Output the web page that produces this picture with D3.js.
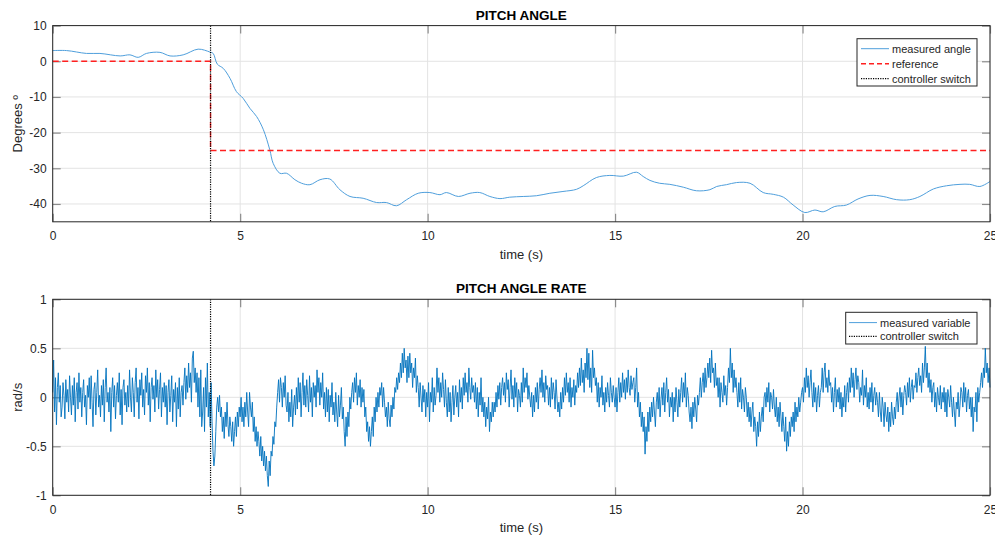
<!DOCTYPE html>
<html>
<head>
<meta charset="utf-8">
<script src="https://cdn.jsdelivr.net/npm/d3@7"></script>
<style>
  html, body { margin: 0; padding: 0; background: #fff; }
  svg { display: block; font-family: "Liberation Sans", Arial, Helvetica, sans-serif; }
</style>
</head>
<body>
<svg id="chart" width="995" height="538"></svg>
<script>
// ---- data ----
const switchTime = 4.21;

// pitch angle (deg) vs time (s)
const angleTime = [0,0.37,0.9,1.26,1.8,2.06,2.28,2.5,2.86,3.13,3.48,3.88,4.19,4.28,4.39,4.55,4.73,4.9,5.08,5.26,5.44,5.62,5.79,5.88,6.06,6.24,6.46,6.64,6.86,7.13,7.39,7.66,7.93,8.28,8.64,8.9,9.17,9.44,9.75,10.06,10.33,10.5,10.82,11.13,11.39,11.66,11.93,12.19,12.55,12.9,13.26,13.61,13.97,14.15,14.5,14.86,15.22,15.57,15.75,15.93,16.19,16.46,16.82,17.17,17.53,17.71,17.97,18.24,18.6,18.95,19.22,19.49,19.75,20.06,20.33,20.55,20.86,21.17,21.48,21.8,22.15,22.51,22.86,23.13,23.49,23.84,24.2,24.46,24.73,25];
const angleValue = [3.0,3.0,2.2,2.2,1.5,1.8,1.1,2.2,2.5,1.5,1.8,3.4,2.6,2.2,-0.8,-2.0,-4.8,-8.5,-10.4,-13.2,-15.5,-19.2,-24.8,-28.6,-31.4,-31.4,-33.2,-34.2,-34.6,-33.2,-33.0,-36.0,-37.9,-38.4,-39.6,-39.6,-40.5,-38.8,-37.0,-36.8,-37.4,-36.8,-37.9,-37.0,-36.8,-37.9,-38.5,-38.1,-37.9,-37.7,-37.0,-36.5,-35.9,-34.9,-32.6,-32.0,-32.2,-31.1,-32.3,-33.4,-34.2,-34.5,-35.3,-36.3,-36.0,-35.1,-34.6,-34.0,-34.2,-36.8,-37.3,-38.1,-40.3,-42.4,-41.7,-42.2,-40.7,-40.3,-38.6,-37.6,-37.9,-38.8,-38.8,-37.9,-35.8,-34.9,-34.5,-34.5,-35.1,-33.7];

// reference pitch (deg)
const refTime = [0, 4.21, 4.21, 25];
const refValue = [0, 0, -25, -25];

// pitch angle rate (rad/s), evenly sampled over 0..25 s (10 samples per quarter second)
const rateStart = 0, rateEnd = 25;
const rateValue = [
  0.05,0.38,-0.15,0.2,-0.28,0.1,0.25,-0.05,0.12,-0.2,
  -0.1,0.15,0.02,-0.22,0.18,-0.05,0.08,-0.15,0.22,0.0,
  -0.18,0.12,-0.08,0.2,-0.25,0.05,0.15,-0.12,0.25,-0.05,
  0.1,-0.2,0.05,0.18,-0.1,0.02,-0.28,0.12,0.0,0.2,
  -0.12,0.22,-0.05,-0.3,0.08,0.15,-0.18,0.05,0.28,-0.1,
  0.02,-0.2,0.12,-0.08,0.18,-0.25,0.1,0.3,-0.05,0.05,
  -0.15,0.1,-0.35,0.05,0.2,-0.1,0.12,-0.22,0.02,0.15,
  -0.05,0.25,-0.18,0.08,-0.28,0.1,0.18,-0.08,0.05,-0.15,
  0.12,-0.1,0.28,0.0,-0.15,0.2,0.05,-0.2,0.15,0.3,
  -0.05,0.1,-0.22,0.18,0.02,0.25,-0.1,0.08,-0.18,0.22,
  0.05,0.3,-0.08,0.15,-0.25,0.1,0.2,-0.02,0.12,-0.15,
  0.28,0.0,0.18,-0.12,0.08,0.25,-0.2,0.1,-0.05,0.15,
  -0.1,0.12,-0.28,0.05,0.18,-0.15,0.02,0.22,-0.25,0.08,
  -0.05,0.15,-0.3,0.1,-0.12,0.2,-0.2,0.05,0.12,-0.08,
  0.15,0.3,-0.02,0.22,0.05,0.35,0.1,0.25,-0.05,0.4,
  0.47,0.15,0.3,0.05,0.25,-0.1,0.2,-0.2,0.28,-0.3,
  -0.15,0.1,-0.35,0.2,-0.1,0.35,-0.2,0.05,-0.3,0.15,
  -0.25,-0.55,-0.7,-0.6,-0.35,-0.1,0.0,-0.15,0.02,-0.2,
  -0.1,-0.35,-0.2,-0.42,-0.15,-0.3,-0.05,-0.28,-0.4,-0.2,
  -0.3,-0.45,-0.25,-0.5,-0.35,-0.2,-0.4,-0.15,-0.3,-0.1,
  -0.2,0.0,-0.25,-0.1,-0.3,-0.05,-0.2,0.05,-0.15,-0.3,
  0.05,-0.1,-0.2,-0.05,-0.35,-0.2,-0.45,-0.3,-0.5,-0.35,
  -0.45,-0.6,-0.4,-0.65,-0.5,-0.7,-0.55,-0.75,-0.6,-0.8,
  -0.91,-0.65,-0.8,-0.55,-0.6,-0.4,-0.48,-0.25,-0.3,-0.1,
  0.05,0.18,-0.05,0.2,0.1,-0.1,0.15,0.0,0.22,-0.08,
  -0.15,0.05,-0.25,-0.05,-0.2,0.08,-0.3,-0.1,0.02,-0.18,
  0.1,-0.12,0.2,-0.05,0.15,-0.2,0.05,0.25,-0.08,0.12,
  -0.1,0.18,0.02,-0.15,0.22,-0.05,0.1,-0.2,0.15,0.0,
  0.12,-0.1,0.28,0.05,0.2,-0.08,0.15,0.0,0.25,-0.12,
  0.05,-0.2,0.1,-0.15,0.08,-0.25,0.02,-0.1,0.15,-0.18,
  -0.05,-0.25,0.05,-0.15,-0.3,0.02,-0.2,-0.08,0.1,-0.22,
  -0.1,-0.35,-0.5,-0.2,-0.4,-0.15,-0.3,0.0,-0.12,0.05,
  0.15,-0.05,0.2,0.05,0.25,-0.08,0.12,0.0,0.18,-0.1,
  0.1,-0.05,0.08,-0.2,-0.1,-0.35,-0.25,-0.45,-0.3,-0.5,
  -0.35,-0.2,-0.4,-0.1,-0.25,0.0,-0.15,0.05,-0.1,0.1,
  0.02,0.15,-0.1,0.1,-0.05,-0.2,-0.1,-0.3,-0.05,-0.22,
  -0.3,-0.08,-0.2,0.0,-0.12,0.1,0.05,0.2,0.08,0.25,
  0.15,0.35,0.2,0.45,0.25,0.5,0.3,0.38,0.15,0.42,
  0.2,0.45,0.25,0.35,0.1,0.3,0.2,0.4,0.05,0.22,
  0.1,-0.1,0.15,0.0,-0.15,0.12,-0.05,0.08,-0.2,0.05,
  -0.1,0.15,-0.25,0.05,-0.05,0.2,-0.15,0.1,-0.08,0.02,
  0.3,0.05,0.2,-0.05,0.15,0.0,0.25,0.08,-0.1,0.18,
  -0.05,-0.2,0.1,-0.15,0.05,-0.25,-0.05,0.12,-0.18,0.0,
  0.12,-0.1,0.05,-0.2,0.18,-0.05,0.1,-0.12,0.2,0.02,
  0.25,0.05,0.15,-0.05,0.3,0.1,-0.02,0.2,0.05,0.12,
  -0.05,0.15,-0.12,0.1,-0.2,0.05,-0.08,0.2,-0.15,0.0,
  -0.2,-0.05,-0.3,-0.1,-0.22,0.0,-0.35,-0.15,-0.25,-0.05,
  -0.2,-0.05,-0.15,0.05,-0.1,0.12,-0.02,0.15,-0.08,0.1,
  0.2,0.02,0.15,-0.05,0.25,0.08,0.18,-0.1,0.1,0.28,
  -0.02,0.12,-0.1,0.2,0.0,0.15,-0.15,0.08,0.02,-0.1,
  0.15,-0.05,0.3,0.05,0.2,0.1,0.25,-0.02,0.12,0.0,
  -0.1,0.05,-0.2,0.02,-0.15,0.1,-0.05,0.15,-0.12,0.08,
  0.2,0.05,0.28,0.0,0.15,-0.05,0.22,0.08,0.12,-0.08,
  0.1,-0.1,0.2,-0.02,0.15,0.05,-0.12,0.18,0.0,-0.15,
  -0.05,-0.2,0.05,-0.12,0.1,-0.05,0.2,0.02,0.25,0.05,
  0.15,-0.05,0.2,-0.1,0.1,0.0,0.18,-0.08,0.12,0.05,
  0.25,0.1,0.3,0.12,0.4,0.15,0.28,0.05,0.35,0.2,
  0.5,0.18,0.45,0.1,0.3,0.05,0.48,0.2,0.3,0.12,
  0.2,-0.05,0.15,-0.1,0.1,0.0,0.22,-0.08,0.05,-0.15,
  0.1,-0.05,0.15,0.02,-0.1,0.2,0.05,-0.05,0.12,0.0,
  -0.1,0.1,-0.15,0.05,0.2,-0.05,0.15,0.0,0.25,0.05,
  0.18,-0.02,0.2,0.05,0.28,0.1,0.02,0.22,0.08,0.15,
  0.2,-0.05,0.1,0.3,-0.1,0.05,-0.2,-0.05,-0.3,-0.15,
  -0.35,-0.2,-0.58,-0.3,-0.45,-0.15,-0.35,-0.1,-0.25,-0.05,
  -0.2,0.0,-0.15,-0.3,-0.05,0.05,-0.12,0.1,-0.2,-0.02,
  0.1,-0.08,0.15,-0.15,0.05,0.2,-0.05,0.08,-0.2,0.0,
  -0.1,0.05,-0.25,0.0,-0.15,0.1,-0.05,-0.2,0.08,-0.1,
  0.05,0.2,-0.05,0.15,0.0,0.25,-0.1,0.1,0.02,-0.15,
  -0.25,-0.1,-0.32,-0.05,-0.2,0.0,-0.12,-0.25,0.02,-0.08,
  0.05,0.2,0.0,0.15,0.25,0.05,0.3,0.1,0.2,0.35,
  0.2,0.4,0.15,0.48,0.25,0.3,0.1,0.35,0.12,0.2,
  0.0,0.2,-0.1,0.15,0.05,-0.05,0.22,0.02,0.12,-0.08,
  0.1,0.3,0.15,0.5,0.2,0.35,0.05,0.28,0.1,0.2,
  0.05,-0.1,0.15,-0.05,0.2,-0.12,0.08,0.0,-0.15,0.1,
  0.0,-0.2,-0.05,-0.25,-0.1,-0.3,-0.15,-0.05,-0.35,-0.2,
  -0.3,-0.5,-0.25,-0.4,-0.15,-0.35,-0.2,-0.1,-0.25,0.0,
  0.05,-0.1,0.1,-0.05,0.15,-0.15,0.05,0.0,-0.12,0.08,
  -0.1,-0.2,0.0,-0.25,-0.1,-0.3,-0.05,-0.2,-0.35,-0.15,
  -0.3,-0.45,-0.2,-0.55,-0.35,-0.5,-0.25,-0.4,-0.2,-0.3,
  -0.15,-0.35,-0.05,-0.25,-0.1,-0.2,0.0,-0.15,-0.05,0.05,
  0.1,-0.05,0.2,0.05,0.3,0.1,0.22,0.0,0.15,0.28,
  0.05,-0.1,0.15,-0.05,0.1,-0.15,0.02,0.12,-0.1,0.05,
  0.1,0.3,0.05,0.25,0.35,0.1,0.2,0.05,0.28,0.12,
  0.15,-0.05,0.1,-0.15,0.05,0.2,-0.1,0.08,-0.05,0.1,
  -0.12,0.05,-0.2,0.0,-0.1,0.12,-0.15,0.05,0.15,-0.05,
  0.2,0.05,0.3,0.1,0.25,0.0,0.18,0.3,0.08,0.22,
  0.15,-0.05,0.1,0.02,0.28,-0.08,0.12,0.0,0.2,-0.1,
  0.05,-0.12,0.1,-0.05,0.15,-0.15,0.02,0.1,-0.08,0.05,
  -0.05,-0.2,0.05,-0.15,-0.25,0.0,-0.1,-0.3,-0.05,-0.18,
  -0.25,-0.1,-0.35,-0.15,-0.3,-0.05,-0.2,-0.28,-0.1,-0.22,
  -0.05,0.05,-0.15,0.0,0.1,-0.1,0.05,-0.18,0.02,0.12,
  0.05,-0.08,0.15,0.0,0.2,-0.05,0.1,0.18,-0.02,0.12,
  0.1,0.25,0.05,0.2,0.3,0.12,0.22,0.05,0.35,0.15,
  0.3,0.52,0.2,0.35,0.1,0.25,0.05,0.18,-0.05,0.1,
  0.15,-0.1,0.05,-0.15,0.1,0.0,-0.08,0.12,-0.12,0.05,
  -0.05,0.1,-0.15,0.05,-0.2,0.08,0.0,-0.1,0.12,-0.05,
  -0.2,0.0,-0.15,-0.3,-0.05,-0.12,0.05,-0.2,-0.08,0.1,
  0.05,-0.1,0.15,-0.05,0.1,-0.15,0.02,0.08,-0.12,0.0,
  -0.2,0.0,-0.35,-0.1,-0.15,0.05,-0.25,0.1,-0.05,0.05,
  0.15,0.25,0.1,0.3,0.2,0.5,0.25,0.35,0.15,0.3,
  0.1
];

const xTicks = [0, 5, 10, 15, 20, 25];
const angleTicks = [10, 0, -10, -20, -30, -40];
const rateTicks = [1, 0.5, 0, -0.5, -1];

// ---- layout ----
const svg = d3.select("#chart");
const left = 52.7, right = 990;
const panels = [
  { top: 25.6, bottom: 221.8, domain: [-45, 10], ticks: angleTicks, title: "PITCH ANGLE", ylabel: "Degrees º" },
  { top: 299.3, bottom: 495.3, domain: [-1, 1], ticks: rateTicks, title: "PITCH ANGLE RATE", ylabel: "rad/s" }
];
const axisColor = "#262626";
const gridColor = "#e3e3e3";
const fmt = d => String(d);

const x = d3.scaleLinear().domain([0, 25]).range([left, right]);

function drawFrame(p) {
  const y = d3.scaleLinear().domain(p.domain).range([p.bottom, p.top]);
  const g = svg.append("g");

  // grid
  g.selectAll(".gx").data(xTicks).join("line")
    .attr("x1", d => x(d)).attr("x2", d => x(d))
    .attr("y1", p.top).attr("y2", p.bottom)
    .attr("stroke", gridColor).attr("stroke-width", 1);
  g.selectAll(".gy").data(p.ticks).join("line")
    .attr("x1", left).attr("x2", right)
    .attr("y1", d => y(d)).attr("y2", d => y(d))
    .attr("stroke", gridColor).attr("stroke-width", 1);

  // axes with inward ticks on all four sides
  const tl = 8;
  g.append("g").attr("transform", `translate(0,${p.bottom})`)
    .call(d3.axisBottom(x).tickValues(xTicks).tickFormat(fmt).tickSizeInner(-tl).tickSizeOuter(0).tickPadding(10))
    .call(a => a.select(".domain").remove());
  g.append("g").attr("transform", `translate(0,${p.top})`)
    .call(d3.axisTop(x).tickValues(xTicks).tickSizeInner(-tl).tickSizeOuter(0).tickFormat(""))
    .call(a => a.select(".domain").remove());
  g.append("g").attr("transform", `translate(${left},0)`)
    .call(d3.axisLeft(y).tickValues(p.ticks).tickFormat(fmt).tickSizeInner(-tl).tickSizeOuter(0).tickPadding(6))
    .call(a => a.select(".domain").remove());
  g.append("g").attr("transform", `translate(${right},0)`)
    .call(d3.axisRight(y).tickValues(p.ticks).tickSizeInner(-tl).tickSizeOuter(0).tickFormat(""))
    .call(a => a.select(".domain").remove());

  g.selectAll(".tick line").attr("stroke", "#8c8c8c").attr("stroke-width", 1.2);
  g.selectAll(".tick text").attr("fill", axisColor).attr("font-size", 12)
    .attr("font-family", "Liberation Sans, Arial, sans-serif");

  // title and labels
  svg.append("text").attr("x", (left + right) / 2).attr("y", p.top - 6)
    .attr("text-anchor", "middle").attr("font-size", 13.5).attr("font-weight", "bold")
    .attr("fill", "#000").text(p.title);
  svg.append("text").attr("x", (left + right) / 2).attr("y", p.bottom + 37)
    .attr("text-anchor", "middle").attr("font-size", 13).attr("fill", axisColor).text("time (s)");
  svg.append("text")
    .attr("transform", `translate(22,${(p.top + p.bottom) / 2}) rotate(-90)`)
    .attr("text-anchor", "middle").attr("font-size", 13).attr("fill", axisColor).text(p.ylabel);

  return y;
}

function drawBox(p) {
  svg.append("rect").attr("x", left).attr("y", p.top)
    .attr("width", right - left).attr("height", p.bottom - p.top)
    .attr("fill", "none").attr("stroke", axisColor).attr("stroke-width", 1);
}

function drawSwitch(p) {
  svg.append("line")
    .attr("x1", x(switchTime)).attr("x2", x(switchTime))
    .attr("y1", p.top).attr("y2", p.bottom)
    .attr("stroke", "#000").attr("stroke-width", 1.2).attr("stroke-dasharray", "1.2,1.2");
}

// ---- top panel: pitch angle ----
const p1 = panels[0];
const y1 = drawFrame(p1);

svg.append("path")
  .datum(d3.zip(angleTime, angleValue))
  .attr("fill", "none").attr("stroke", "#4f9fdc").attr("stroke-width", 1)
  .attr("d", d3.line().x(d => x(d[0])).y(d => y1(d[1])).curve(d3.curveCatmullRom.alpha(0.5)));

svg.append("path")
  .datum(d3.zip(refTime, refValue))
  .attr("fill", "none").attr("stroke", "#ff2020").attr("stroke-width", 1.4)
  .attr("stroke-dasharray", "6,3.5")
  .attr("d", d3.line().x(d => x(d[0])).y(d => y1(d[1])));

drawSwitch(p1);
drawBox(p1);

// ---- bottom panel: pitch angle rate ----
const p2 = panels[1];
const y2 = drawFrame(p2);
const rateDt = (rateEnd - rateStart) / (rateValue.length - 1);

svg.append("path")
  .datum(rateValue.map((v, i) => [rateStart + i * rateDt, v]))
  .attr("fill", "none").attr("stroke", "#0072BD").attr("stroke-width", 0.9)
  .attr("stroke-linejoin", "round")
  .attr("d", d3.line().x(d => x(d[0])).y(d => y2(d[1])));

drawSwitch(p2);
drawBox(p2);

// ---- legends ----
function legend(bx, by, w, h, items, sampleX0, sampleX1, textX) {
  const g = svg.append("g");
  g.append("rect").attr("x", bx).attr("y", by).attr("width", w).attr("height", h)
    .attr("fill", "#fff").attr("stroke", axisColor).attr("stroke-width", 1);
  items.forEach(it => {
    g.append("line").attr("x1", sampleX0).attr("x2", sampleX1)
      .attr("y1", it.y).attr("y2", it.y)
      .attr("stroke", it.color).attr("stroke-width", it.width)
      .attr("stroke-dasharray", it.dash || null);
    g.append("text").attr("x", textX).attr("y", it.y + 4)
      .attr("font-size", 11).attr("fill", axisColor).text(it.label);
  });
}

legend(857, 38.7, 120, 47.3, [
  { y: 48.7, color: "#4f9fdc", width: 1, label: "measured angle" },
  { y: 63.7, color: "#ff2020", width: 1.4, dash: "5,3", label: "reference" },
  { y: 78.7, color: "#000", width: 1.2, dash: "1.2,1.2", label: "controller switch" }
], 861, 889, 892);

legend(845.7, 312.3, 131.3, 31.7, [
  { y: 322.6, color: "#4f9fdc", width: 1, label: "measured variable" },
  { y: 336.3, color: "#000", width: 1.2, dash: "1.2,1.2", label: "controller switch" }
], 849, 877, 880);
</script>
</body>
</html>
